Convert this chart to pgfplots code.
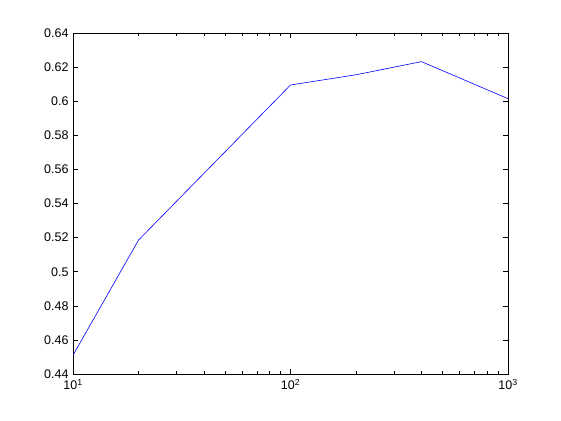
\documentclass[border=0pt]{standalone}
\usepackage{pgfplots}
\pgfplotsset{compat=1.18}
\usepackage{fontspec}
\setmainfont{Liberation Sans}
\begin{document}
\begin{tikzpicture}[x=1pt,y=1pt]
\path (-73,-46) rectangle (488,374);
\begin{axis}[
  at={(0,0)}, anchor=south west,
  scale only axis, width=435pt, height=341pt,
  xmode=log, xmin=10, xmax=1000,
  ymin=0.44, ymax=0.64,
  ytick={0.44,0.46,...,0.641},
  yticklabels={0.44,0.46,0.48,0.5,0.52,0.54,0.56,0.58,0.6,0.62,0.64},
  tick align=inside,
  major tick length=5.5pt, minor tick length=3pt,
  tick style={black, line width=0.6pt},
  axis line style={line width=0.6pt},
  /pgf/number format/assume math mode=true,
  tick label style={font=\fontsize{12.5}{14}\selectfont},
  yticklabel style={xshift=-1pt},
  xtick={10,100,1000},
  xticklabels={10\textsuperscript{1},10\textsuperscript{2},10\textsuperscript{3}},
  xticklabel style={yshift=-2pt},
]
\addplot[blue, line width=0.6pt] coordinates {
(10,0.451) (20,0.5185) (100,0.6095) (200,0.6155) (400,0.6232) (1000,0.6015)
};
\end{axis}
\end{tikzpicture}
\end{document}
